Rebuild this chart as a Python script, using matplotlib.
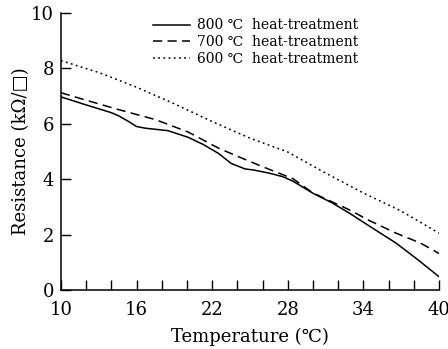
import matplotlib
matplotlib.use("Agg")
import matplotlib.pyplot as plt
from matplotlib.ticker import MultipleLocator

plt.rcParams['font.family'] = ['DejaVu Serif', 'DejaVu Sans']
plt.rcParams['mathtext.fontset'] = 'dejavuserif'

# temperatures (C) and sheet resistance (kOhm/sq)
t800 = [10, 12, 14, 14.6, 15.3, 16.0, 16.7, 18.5, 20.1, 21.3, 22.5, 23.5, 24.6, 25.3, 26.5, 27.6, 28.4, 30.0, 31.5, 32.9, 34.5, 36.6, 38.3, 40]
r800 = [6.97, 6.68, 6.40, 6.28, 6.10, 5.90, 5.84, 5.75, 5.51, 5.25, 4.93, 4.57, 4.37, 4.33, 4.22, 4.09, 3.93, 3.49, 3.15, 2.77, 2.30, 1.69, 1.10, 0.48]

t700 = [10, 12, 14.5, 17.5, 20.1, 22.5, 24.2, 26, 28.4, 30, 32.9, 34.5, 36.6, 38.5, 40]
r700 = [7.12, 6.85, 6.52, 6.15, 5.70, 5.12, 4.79, 4.45, 4.02, 3.50, 2.89, 2.50, 2.05, 1.70, 1.32]

t600 = [10, 13, 16, 19, 22, 25, 28, 31, 34, 37, 40]
r600 = [8.28, 7.85, 7.32, 6.72, 6.08, 5.48, 4.98, 4.22, 3.50, 2.85, 2.05]

x_ticks = [10, 16, 22, 28, 34, 40]
y_ticks = [0, 2, 4, 6, 8, 10]

fig = plt.figure(figsize=(4.48, 3.49), dpi=100)
ax = fig.add_axes([0.136, 0.169, 0.844, 0.794])

ax.plot(t800, r800, color='k', lw=1.1, ls='-', label='800 ℃  heat-treatment')
ax.plot(t700, r700, color='k', lw=1.1, ls=(0, (6, 3.5)), label='700 ℃  heat-treatment')
ax.plot(t600, r600, color='k', lw=1.1, ls=(0, (1.2, 2.2)), label='600 ℃  heat-treatment')

ax.set_xlim(10, 40)
ax.set_ylim(0, 10)
ax.set_xticks(x_ticks)
ax.set_yticks(y_ticks)
ax.xaxis.set_minor_locator(MultipleLocator(2))
ax.tick_params(which='both', direction='in', length=7, width=1, labelsize=13)
ax.tick_params(axis='x', pad=8)
ax.tick_params(axis='y', pad=5)
ax.spines['top'].set_visible(False)
ax.spines['right'].set_visible(False)
for s in ('left', 'bottom'):
    ax.spines[s].set_linewidth(1.1)

ax.set_xlabel('Temperature (℃)', fontsize=13, labelpad=6)
ax.set_ylabel('Resistance (kΩ/□)', fontsize=13, labelpad=1)

leg = ax.legend(loc='upper left', bbox_to_anchor=(0.23, 1.0), frameon=False, fontsize=10,
                handlelength=2.6, handletextpad=0.5, labelspacing=0.2, borderaxespad=0)

fig.savefig('out.png', dpi=100)
